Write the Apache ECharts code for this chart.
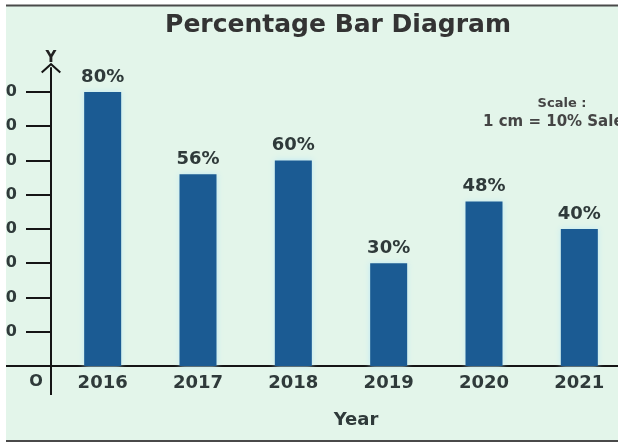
<!DOCTYPE html>
<html>
<head>
<meta charset="utf-8">
<title>Percentage Bar Diagram</title>
<script src="https://cdn.jsdelivr.net/npm/echarts@6/dist/echarts.min.js"></script>
<style>
  html, body { margin: 0; padding: 0; background: #fff; }
  #chart { width: 618px; height: 443px; }
</style>
</head>
<body>
<div id="chart"></div>
<script>
// data
var years = ['2016', '2017', '2018', '2019', '2020', '2021'];
var percents = [80, 56, 60, 30, 48, 40];
var yTicks = [10, 20, 30, 40, 50, 60, 70, 80];

var ink = '#2f3a3a';
var axisInk = '#151515';
var font = 'DejaVu Sans';

var myChart = echarts.init(document.getElementById('chart'));

var option = {
    backgroundColor: '#e3f5ea',
    title: {
        text: 'Percentage Bar Diagram',
        left: 333,
        top: 8,
        textAlign: 'center',
        textStyle: { fontFamily: font, fontSize: 25, fontWeight: 'bold', color: '#333' }
    },
    grid: { left: 55, right: -9, top: 68, bottom: 77, outerBoundsMode: 'none', containLabel: false },
    xAxis: {
        type: 'category',
        data: years,
        axisLine: { lineStyle: { color: axisInk, width: 2 } },
        axisTick: { show: false },
        axisLabel: { margin: 8, fontFamily: font, fontSize: 18, fontWeight: 'bold', color: ink }
    },
    yAxis: {
        type: 'value',
        min: 0,
        max: 87,
        offset: 4,
        name: 'Y',
        nameGap: 2,
        nameTextStyle: { fontFamily: font, fontSize: 15, fontWeight: 'bold', color: '#222' },
        axisLine: {
            show: true,
            lineStyle: { color: axisInk, width: 2 },
            symbol: ['none', 'path://M10,0 L20,9 L18.6,10.4 L10,2.8 L1.4,10.4 L0,9 Z'],
            symbolSize: [20, 11]
        },
        axisTick: { show: true, length: 25, customValues: yTicks, lineStyle: { color: axisInk, width: 2 } },
        axisLabel: { margin: 34, customValues: yTicks, fontFamily: font, fontSize: 16, fontWeight: 'bold', color: ink },
        splitLine: { show: false }
    },
    series: [{
        name: 'Percentage',
        type: 'bar',
        data: percents,
        barWidth: 37,
        itemStyle: { color: '#1b5b93', shadowBlur: 6, shadowColor: '#bfeaf5' },
        label: {
            show: true,
            position: 'top',
            distance: 6,
            formatter: '{c}%',
            fontFamily: font,
            fontSize: 18,
            fontWeight: 'bold',
            color: ink
        }
    }],
    graphic: [
        // frame of the original picture
        { type: 'rect', shape: { x: 0, y: 0, width: 6, height: 443 }, style: { fill: '#fff' }, z: 100 },
        { type: 'rect', shape: { x: 0, y: 0, width: 618, height: 5 }, style: { fill: '#fff' }, z: 100 },
        { type: 'rect', shape: { x: 0, y: 442, width: 618, height: 1 }, style: { fill: '#fff' }, z: 100 },
        { type: 'line', shape: { x1: 6, y1: 5.5, x2: 618, y2: 5.5 }, style: { stroke: '#4a4a4a', lineWidth: 2 }, z: 100 },
        { type: 'line', shape: { x1: 6, y1: 441, x2: 618, y2: 441 }, style: { stroke: '#4a4a4a', lineWidth: 2 }, z: 100 },
        // axis line running past the origin
        { type: 'line', shape: { x1: 6, y1: 366, x2: 55, y2: 366 }, style: { stroke: axisInk, lineWidth: 2 } },
        { type: 'line', shape: { x1: 51, y1: 366, x2: 51, y2: 395 }, style: { stroke: axisInk, lineWidth: 2 } },
        { type: 'text', x: 36, y: 382, style: { text: 'O', fontFamily: font, fontSize: 16, fontWeight: 'bold', fill: ink, align: 'center', verticalAlign: 'middle' } },
        { type: 'text', x: 356, y: 420, style: { text: 'Year', fontFamily: font, fontSize: 18, fontWeight: 'bold', fill: ink, align: 'center', verticalAlign: 'middle' } },
        { type: 'text', x: 562, y: 104, style: { text: 'Scale :', fontFamily: font, fontSize: 13, fontWeight: 'bold', fill: '#444', align: 'center', verticalAlign: 'middle' } },
        { type: 'text', x: 483, y: 122, style: { text: '1 cm = 10% Sales', fontFamily: font, fontSize: 15, fontWeight: 'bold', fill: '#444', align: 'left', verticalAlign: 'middle' } }
    ]
};

myChart.setOption(option);
</script>
</body>
</html>
